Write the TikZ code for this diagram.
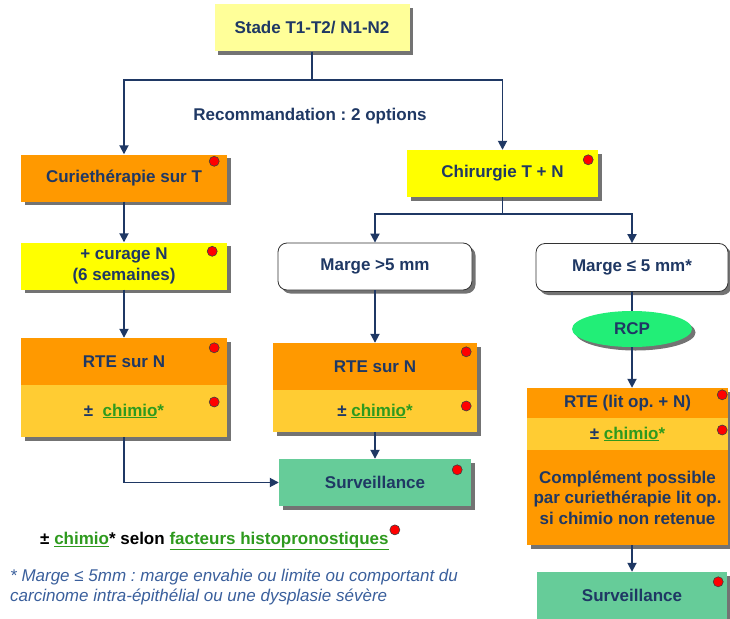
\documentclass[tikz,border=0pt]{standalone}
\usepackage{fontspec}
\setmainfont{Liberation Sans}
\usepackage{xcolor}
\usepackage{tikz}
\usetikzlibrary{arrows.meta,positioning,shapes.geometric,shadows}
\frenchspacing
\definecolor{tnavy}{HTML}{1F3864}
\definecolor{tpaleyel}{HTML}{FFFF99}
\definecolor{tyel}{HTML}{FFFF00}
\definecolor{torg}{HTML}{FF9900}
\definecolor{tlorg}{HTML}{FFCC33}
\definecolor{tgrn}{HTML}{66CC99}
\definecolor{trcpgrn}{HTML}{22EE77}
\definecolor{tchim}{HTML}{2E9A1E}
\definecolor{tfoot}{HTML}{3A5F9C}
\newcommand{\tchimio}{\textcolor{tchim}{\underline{chimio}*}}
\tikzset{
  tfont/.style={font=\bfseries\fontsize{17}{20.5}\selectfont, text=tnavy},
  tbase/.style={tfont, rectangle, align=center, inner sep=2pt, general shadow={fill=black!55, shadow xshift=3.5pt, shadow yshift=-3.5pt}},
  tpale/.style={tbase, fill=tpaleyel, minimum width=195pt, minimum height=47pt},
  tyellow/.style={tbase, fill=tyel, minimum height=47pt},
  torange/.style={tbase, fill=torg},
  tlight/.style={tbase, fill=tlorg},
  tgreen/.style={tbase, fill=tgrn, minimum height=47pt},
  tmarge/.style={tbase, fill=white, draw=black!80, thick, rounded corners=9pt, minimum height=47pt},
  trcp/.style={tbase, ellipse, fill=trcpgrn, minimum width=120pt, minimum height=36pt, inner sep=0pt},
  tdot/.style={circle, fill=red, draw=black!75, line width=0.6pt, minimum size=10pt, inner sep=0pt},
  tarrow/.style={-{Triangle[width=9pt,length=9pt]}, line width=1.8pt, draw=tnavy},
  tline/.style={line width=1.8pt, draw=tnavy},
  tnote/.style={font=\fontsize{17}{20}\selectfont, align=left, inner sep=0pt}
}
\begin{document}
\begin{tikzpicture}[x=1pt,y=-1pt]
\useasboundingbox (0,0) rectangle (730,618);
% top
\node[tpale] (stade) at (312,28) {Stade T1-T2/ N1-N2};
\coordinate (split1) at (312,80);
\node[tfont] (reco) at (310,116) {Recommandation : 2 options};

% curietherapie branch
\node[torange, minimum width=206pt, minimum height=47pt] (curie) at (124,178) {Curiethérapie sur T};
\node[tyellow, minimum width=206pt] (curage) at (124,266) {+ curage N\\(6 semaines)};
\node[torange, minimum width=206pt, minimum height=47pt] (rteA) at (124,361.5) {RTE sur N};
\node[tlight, minimum width=206pt, minimum height=52pt] (chimA) at (124,411) {±\ \ \tchimio};

% chirurgie branch
\node[tyellow, minimum width=191pt] (chir) at (502.5,173.5) {Chirurgie T + N};
\coordinate (split2) at (502.5,214);
\node[tmarge, minimum width=194pt] (margeA) at (375,266.5) {Marge >5 mm};
\node[torange, minimum width=204pt, minimum height=47pt] (rteB) at (375,366.5) {RTE sur N};
\node[tlight, minimum width=204pt, minimum height=42pt] (chimB) at (375,411) {± \tchimio};
\node[tgreen, minimum width=192pt] (survB) at (375,482.5) {Surveillance};

\node[tmarge, minimum width=192pt, minimum height=48pt] (margeC) at (632,267.5) {Marge ≤ 5 mm*};
\node[trcp] (rcp) at (632,329) {RCP};
\node[torange, minimum width=201pt, minimum height=30pt] (rteC) at (627.5,403) {RTE (lit op. + N)};
\node[tlight, minimum width=201pt, minimum height=32pt] (chimC) at (627.5,434) {± \tchimio};
\node[torange, minimum width=201pt, minimum height=95pt] (compl) at (627.5,497.5) {Complément possible\\par curiethérapie lit op.\\si chimio non retenue};
\node[tgreen, minimum width=190pt] (survC) at (632,595.5) {Surveillance};

% notes
\node[tnote, anchor=west, font=\bfseries\fontsize{17}{20}\selectfont] (selon) at (40,541) {± \textcolor{tchim}{\underline{chimio}}* selon \textcolor{tchim}{\underline{facteurs histopronostiques}}};
\node[tnote, anchor=north west, text=tfoot, font=\itshape\fontsize{17}{20}\selectfont] (foot) at (10,569) {* Marge ≤ 5mm : marge envahie ou limite ou comportant du\\carcinome intra-épithélial ou une dysplasie sévère};

% red dots
\node[tdot] (dcurie) at ([shift={(-13pt,-7pt)}]curie.north east) {};
\node[tdot] (dcurage) at ([shift={(-15pt,-9pt)}]curage.north east) {};
\node[tdot] (drteA) at ([shift={(-13pt,-10pt)}]rteA.north east) {};
\node[tdot] (dchimA) at ([shift={(-13pt,9pt)}]chimA.east) {};
\node[tdot] (dchir) at ([shift={(-10pt,-10pt)}]chir.north east) {};
\node[tdot] (drteB) at ([shift={(-11pt,-9pt)}]rteB.north east) {};
\node[tdot] (dchimB) at ([shift={(-11pt,5pt)}]chimB.east) {};
\node[tdot] (dsurvB) at ([shift={(-14pt,-11pt)}]survB.north east) {};
\node[tdot] (drteC) at ([shift={(-6pt,-7pt)}]rteC.north east) {};
\node[tdot] (dchimC) at ([shift={(-6pt,4pt)}]chimC.east) {};
\node[tdot] (dsurvC) at ([shift={(-9pt,-10pt)}]survC.north east) {};
\node[tdot] (dselon) at ([shift={(6pt,2pt)}]selon.north east) {};

% connectors
\draw[tline] (stade.south) -- (split1);
\draw[tarrow] (split1) -| (curie.north);
\draw[tarrow] (split1) -| (chir.north);
\draw[tarrow] (curie) -- (curage);
\draw[tarrow] (curage) -- (rteA);
\draw[tarrow] (chimA.south) |- (survB.west);
\draw[tline] (chir.south) -- (split2);
\draw[tarrow] (split2) -| (margeA.north);
\draw[tarrow] (split2) -| (margeC.north);
\draw[tarrow] (margeA) -- (rteB);
\draw[tarrow] (chimB) -- (survB);
\draw[tline] (margeC) -- (rcp);
\draw[tarrow] (rcp.south) -- (rcp.south |- rteC.north);
\draw[tarrow] (survC.north |- compl.south) -- (survC.north);
\end{tikzpicture}
\end{document}
